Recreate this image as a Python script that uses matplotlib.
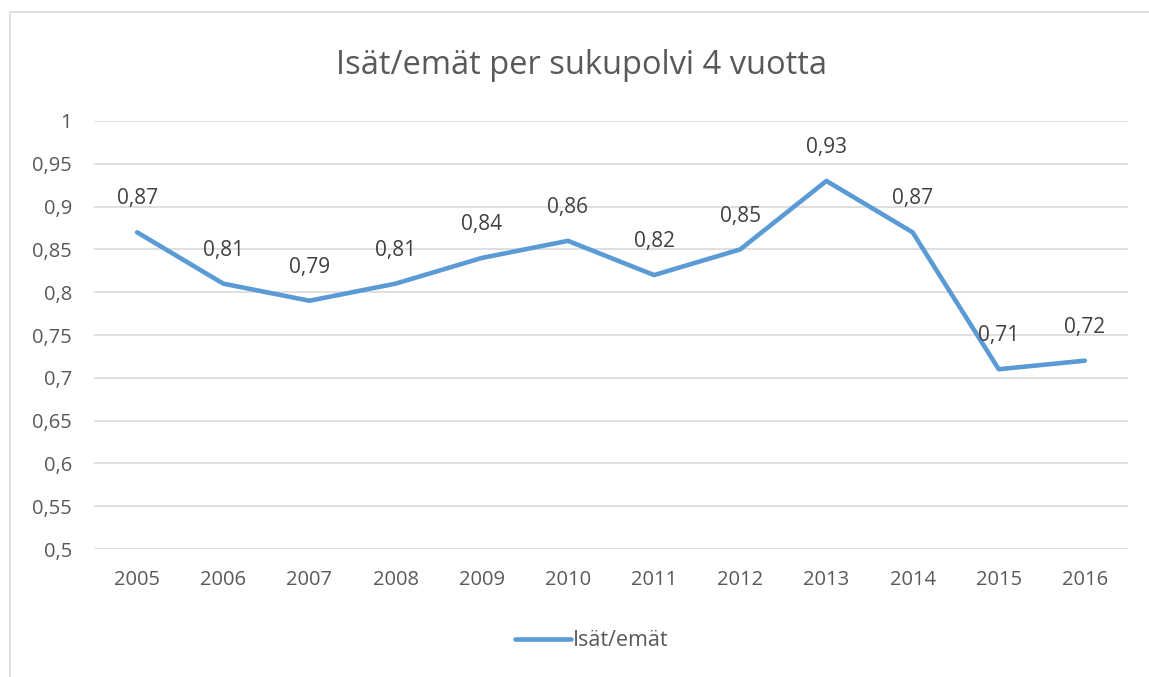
import matplotlib.pyplot as plt
from matplotlib.patches import Rectangle

years = ["2005", "2006", "2007", "2008", "2009", "2010",
         "2011", "2012", "2013", "2014", "2015", "2016"]
values = [0.87, 0.81, 0.79, 0.81, 0.84, 0.86, 0.82, 0.85, 0.93, 0.87, 0.71, 0.72]
yticks = [0.5, 0.55, 0.6, 0.65, 0.7, 0.75, 0.8, 0.85, 0.9, 0.95, 1.0]
title = "Isät/emät per sukupolvi 4 vuotta"
series_name = "Isät/emät"

plt.rcParams["font.family"] = ["Open Sans", "DejaVu Sans"]
W, H = 1149, 677
fig = plt.figure(figsize=(W / 100, H / 100), dpi=100)

# chart frame (extends past right/bottom edge)
fig.patches.append(Rectangle((10 / W, -0.1), 1.2, 1 - 12 / H + 0.1,
                             transform=fig.transFigure, fill=False,
                             edgecolor="#d9d9d9", linewidth=1.2))

left, right = 94 / W, 1128 / W
top, bottom = 1 - 121 / H, 1 - 549 / H
ax = fig.add_axes([left, bottom, right - left, top - bottom])

x = list(range(len(years)))
line, = ax.plot(x, values, color="#5b9bd5", linewidth=3.3,
                solid_capstyle="round", solid_joinstyle="round",
                label=series_name, zorder=3)

for xi, v in zip(x, values):
    ax.annotate(f"{v:.2f}".replace(".", ","), (xi, v), xytext=(0, 24),
                textcoords="offset points", ha="center", va="center",
                fontsize=15, color="#404040")

ax.set_xlim(-0.5, len(years) - 0.5)
ax.set_ylim(0.5, 1.0)
ax.set_yticks(yticks)
ax.set_yticklabels([f"{t:g}".replace(".", ",") for t in yticks])
ax.set_xticks(x)
ax.set_xticklabels(years)
ax.tick_params(axis="both", length=0, labelsize=14.5, labelcolor="#595959")
ax.tick_params(axis="y", pad=16)
ax.tick_params(axis="x", pad=15)
ax.grid(axis="y", color="#d9d9d9", linewidth=1.2)
ax.set_axisbelow(True)
for s in ax.spines.values():
    s.set_visible(False)

fig.text(582 / W, 1 - 66 / H, title, ha="center", va="center",
         fontsize=23.5, color="#595959")

fig.legend(handles=[line], loc="center", bbox_to_anchor=(592 / W, 1 - 641 / H),
           frameon=False, fontsize=15.5, labelcolor="#595959",
           handlelength=2.6, handletextpad=0.1)

fig.savefig("out.png", dpi=100)
